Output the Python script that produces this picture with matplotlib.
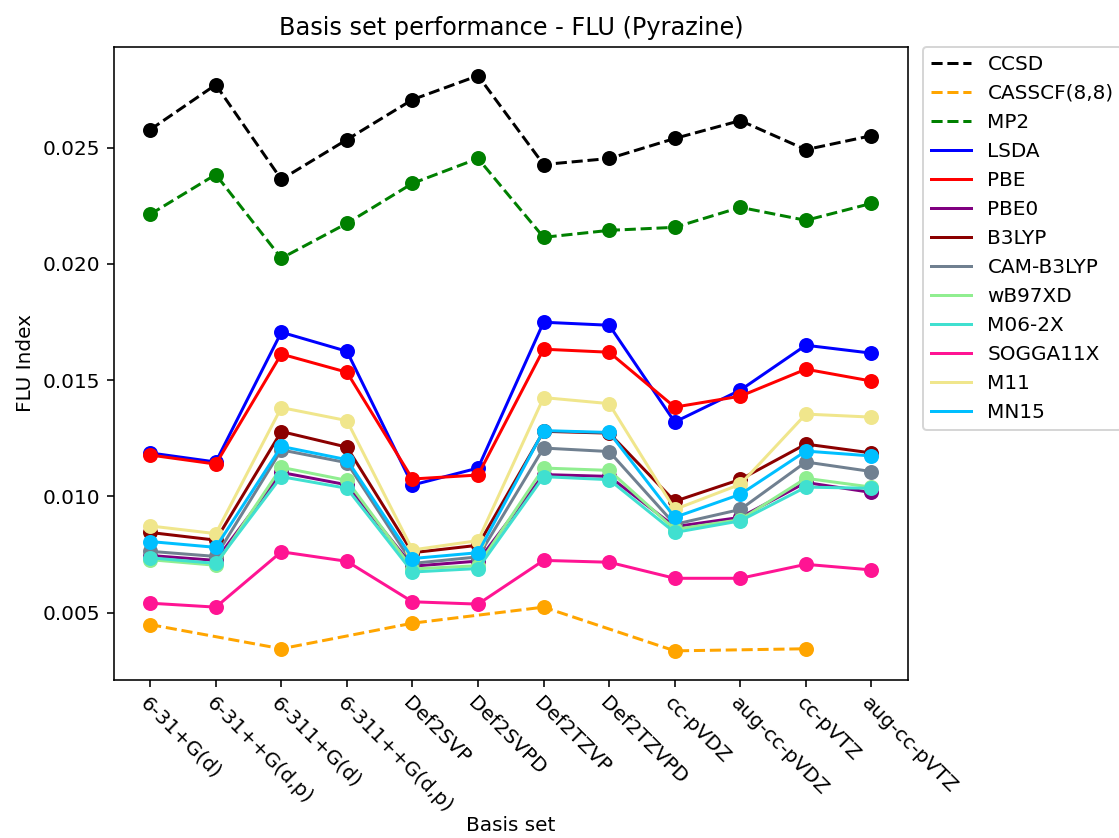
import numpy as np
import matplotlib.pyplot as plt

basis_sets = ["6-31+G(d)", "6-31++G(d,p)", "6-311+G(d)", "6-311++G(d,p)",
              "Def2SVP", "Def2SVPD", "Def2TZVP", "Def2TZVPD",
              "cc-pVDZ", "aug-cc-pVDZ", "cc-pVTZ", "aug-cc-pVTZ"]

ccsd = [0.02577, 0.02770, 0.02363, 0.02534, 0.02706, 0.02809,
        0.02427, 0.02453, 0.02539, 0.02616, 0.02491, 0.02551]
# CASSCF(8,8) only converged for some basis sets
casscf_basis = ["6-31+G(d)", "6-311+G(d)", "Def2SVP", "Def2TZVP", "cc-pVDZ", "cc-pVTZ"]
casscf = [0.00449, 0.00345, 0.00455, 0.00524, 0.00336, 0.00345]
mp2 = [0.02213, 0.02384, 0.02024, 0.02174, 0.02346, 0.02453,
       0.02114, 0.02144, 0.02157, 0.02243, 0.02187, 0.02260]
lsda = [0.01187, 0.01148, 0.01706, 0.01624, 0.01049, 0.01122,
        0.01749, 0.01736, 0.01320, 0.01457, 0.01650, 0.01616]
pbe = [0.01178, 0.01139, 0.01612, 0.01534, 0.01075, 0.01092,
       0.01633, 0.01620, 0.01384, 0.01431, 0.01547, 0.01496]
pbe0 = [0.00746, 0.00725, 0.01103, 0.01050, 0.00700, 0.00722,
        0.01094, 0.01086, 0.00870, 0.00910, 0.01060, 0.01017]
b3lyp = [0.00845, 0.00812, 0.01279, 0.01212, 0.00758, 0.00790,
         0.01280, 0.01272, 0.00979, 0.01073, 0.01225, 0.01187]
cam_b3lyp = [0.00764, 0.00742, 0.01200, 0.01145, 0.00712, 0.00740,
             0.01208, 0.01193, 0.00880, 0.00944, 0.01148, 0.01107]
wb97xd = [0.00728, 0.00704, 0.01125, 0.01069, 0.00688, 0.00702,
          0.01122, 0.01112, 0.00858, 0.00900, 0.01078, 0.01040]
m062x = [0.00736, 0.00712, 0.01085, 0.01035, 0.00675, 0.00690,
         0.01085, 0.01072, 0.00845, 0.00895, 0.01040, 0.01035]
sogga11x = [0.00541, 0.00524, 0.00762, 0.00721, 0.00547, 0.00537,
            0.00725, 0.00717, 0.00648, 0.00648, 0.00708, 0.00684]
m11 = [0.00873, 0.00840, 0.01382, 0.01326, 0.00770, 0.00810,
       0.01425, 0.01399, 0.00944, 0.01052, 0.01354, 0.01341]
mn15 = [0.00806, 0.00781, 0.01215, 0.01158, 0.00733, 0.00758,
        0.01283, 0.01275, 0.00910, 0.01009, 0.01195, 0.01174]

methods = [
    ("CCSD", basis_sets, ccsd, "black", "--"),
    ("CASSCF(8,8)", casscf_basis, casscf, "orange", "--"),
    ("MP2", basis_sets, mp2, "green", "--"),
    ("LSDA", basis_sets, lsda, "blue", "-"),
    ("PBE", basis_sets, pbe, "red", "-"),
    ("PBE0", basis_sets, pbe0, "purple", "-"),
    ("B3LYP", basis_sets, b3lyp, "darkred", "-"),
    ("CAM-B3LYP", basis_sets, cam_b3lyp, "slategray", "-"),
    ("wB97XD", basis_sets, wb97xd, "lightgreen", "-"),
    ("M06-2X", basis_sets, m062x, "turquoise", "-"),
    ("SOGGA11X", basis_sets, sogga11x, "deeppink", "-"),
    ("M11", basis_sets, m11, "khaki", "-"),
    ("MN15", basis_sets, mn15, "deepskyblue", "-"),
]

fig, ax = plt.subplots(figsize=(1119 / 144, 838 / 144), dpi=144)
fig.subplots_adjust(left=0.102, right=0.811, top=0.944, bottom=0.189)

for name, xs_labels, vals, color, ls in methods:
    xs = [basis_sets.index(b) for b in xs_labels]
    ax.plot(xs, vals, linestyle=ls, color=color, label=name)
    ax.scatter(xs, vals, color=color, s=42, zorder=2)

ax.set_xticks(np.arange(len(basis_sets)))
ax.set_xticklabels(basis_sets, rotation=-45, ha="left", rotation_mode="anchor")
ax.set_title("Basis set performance - FLU (Pyrazine)")
ax.set_xlabel("Basis set", labelpad=0)
ax.set_ylabel("FLU Index")
ax.legend(loc="upper left", bbox_to_anchor=(1.02, 1.0), borderaxespad=0)

fig.savefig("out.png", dpi=144)
